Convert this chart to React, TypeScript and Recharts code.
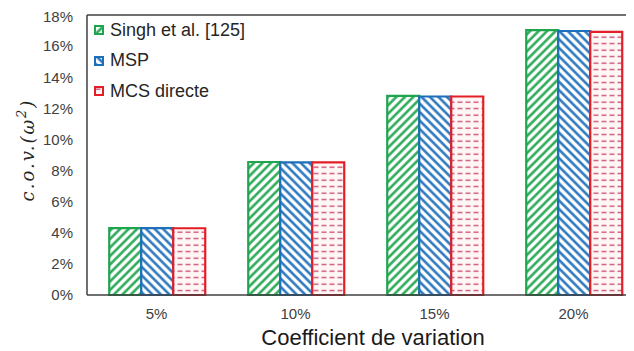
import { BarChart, Bar, XAxis, YAxis, ReferenceLine } from "recharts"

const categories = ["5%", "10%", "15%", "20%"]
const singh = [0.043, 0.0855, 0.128, 0.1703]
const msp = [0.043, 0.0853, 0.1276, 0.1697]
const mcs = [0.0429, 0.0853, 0.1276, 0.1692]
const yTicks = [0, 0.02, 0.04, 0.06, 0.08, 0.1, 0.12, 0.14, 0.16, 0.18]

const series = [
  { key: "singh", name: "Singh et al. [125]", color: "#1EA54E", fill: "url(#hatchGreen)" },
  { key: "msp", name: "MSP", color: "#1E6FBA", fill: "url(#hatchBlue)" },
  { key: "mcs", name: "MCS directe", color: "#E41E26", fill: "url(#dashRed)" },
]

const data = categories.map((c, i) => ({
  name: c,
  singh: singh[i],
  msp: msp[i],
  mcs: mcs[i],
}))

const font = "'Liberation Sans', Arial, sans-serif"

function Patterns() {
  return (
    <svg width={0} height={0} style={{ position: "absolute" }}>
      <defs>
        <pattern id="hatchGreen" width="6" height="6" patternUnits="userSpaceOnUse" patternTransform="rotate(45)">
          <rect width="6" height="6" fill="#ffffff" />
          <line x1="1.5" y1="0" x2="1.5" y2="6" stroke="#1EA54E" strokeWidth="2.4" />
        </pattern>
        <pattern id="hatchBlue" width="6" height="6" patternUnits="userSpaceOnUse" patternTransform="rotate(-45)">
          <rect width="6" height="6" fill="#ffffff" />
          <line x1="1.5" y1="0" x2="1.5" y2="6" stroke="#1E6FBA" strokeWidth="2.4" />
        </pattern>
        <pattern id="dashRed" width="8" height="6.5" patternUnits="userSpaceOnUse">
          <rect width="8" height="6.5" fill="#fff6f6" />
          <rect x="1.5" y="2.5" width="5" height="1.3" fill="#C8466A" />
        </pattern>
      </defs>
    </svg>
  )
}

// legend drawn as plain html over the plot (top left corner)
function LegendBox() {
  return (
    <div style={{ position: "absolute", left: 86, top: 7, fontFamily: font, fontSize: 18, color: "#262626" }}>
      {series.map((s) => (
        <div key={s.key} style={{ display: "flex", alignItems: "center", height: 30.5 }}>
          <svg width={10} height={10} style={{ marginRight: 6 }}>
            <rect x={1} y={1} width={8} height={8} fill={s.fill} stroke={s.color} strokeWidth={2} />
          </svg>
          <span>{s.name}</span>
        </div>
      ))}
    </div>
  )
}

function YLabel() {
  return (
    <text
      x={0}
      y={0}
      transform="translate(26,142) rotate(-90)"
      textAnchor="middle"
      fontFamily="'DejaVu Serif', 'Liberation Serif', serif"
      fontStyle="italic"
      fontSize={18}
      letterSpacing={2}
      fill="#262626"
    >
      c.o.v.(ω
      <tspan dy={-8} fontSize={13}>2</tspan>
      <tspan dy={8}>)</tspan>
    </text>
  )
}

export default function App() {
  return (
    <div style={{ position: "relative", width: 660, height: 343 }}>
      <Patterns />
      <BarChart
        width={660}
        height={343}
        data={data}
        margin={{ top: 7, right: 25, bottom: 0, left: 0 }}
        barCategoryGap="16%"
        barGap={0}
      >
        <XAxis
          dataKey="name"
          height={56}
          axisLine={{ stroke: "#404040", strokeWidth: 1.5 }}
          tickLine={false}
          tick={{ fill: "#404040", fontSize: 15, fontFamily: font }}
          tickMargin={7}
          label={{ value: "Coefficient de variation", position: "insideBottom", offset: 6, dx: 8, fill: "#1a1a1a", fontSize: 22, fontFamily: font }}
        />
        <YAxis
          width={79}
          domain={[0, 0.18]}
          ticks={yTicks}
          tickFormatter={(v: number) => `${Math.round(v * 100)}%`}
          axisLine={{ stroke: "#404040", strokeWidth: 1.5 }}
          tickLine={false}
          tick={{ fill: "#404040", fontSize: 15, fontFamily: font }}
          tickMargin={8}
          label={<YLabel />}
        />
        <ReferenceLine y={0.18} stroke="#404040" strokeWidth={1.5} />
        {series.map((s) => (
          <Bar
            key={s.key}
            dataKey={s.key}
            name={s.name}
            fill={s.fill}
            stroke={s.color}
            strokeWidth={2.2}
            isAnimationActive={false}
          />
        ))}
      </BarChart>
      <LegendBox />
    </div>
  )
}
